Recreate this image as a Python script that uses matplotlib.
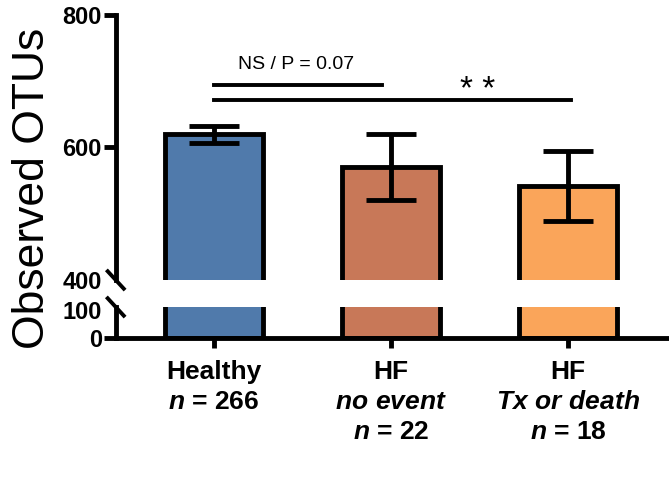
import matplotlib
matplotlib.use('Agg')
import matplotlib.pyplot as plt

plt.rcParams.update({'font.family': 'Liberation Sans',
                     'mathtext.fontset': 'custom',
                     'mathtext.rm': 'Liberation Sans:bold',
                     'mathtext.it': 'Liberation Sans:italic:bold',
                     'mathtext.bf': 'Liberation Sans:bold'})

# data
groups = ['Healthy\n$n$ = 266',
          'HF\n$no\\ event$\n$n$ = 22',
          'HF\n$Tx\\ or\\ death$\n$n$ = 18']
means = [620, 570, 542]
sems = [13, 50, 53]
colors = ['#507AAB', '#C87858', '#FAA55A']
upper_ticks = [400, 600, 800]
lower_ticks = [0, 100]

lw = 3.5
x = range(len(means))

fig = plt.figure(figsize=(6.69, 4.83), dpi=100)
ax1 = fig.add_axes([0.173, 0.4203, 0.827, 0.5487])  # top part 400-800
ax2 = fig.add_axes([0.173, 0.3002, 0.827, 0.0642])  # bottom part 0-110

for ax in (ax1, ax2):
    ax.bar(x, means, width=0.554, color=colors, edgecolor='black', linewidth=lw)
    ax.set_xlim(-0.554, 2.571)
    for s in ['top', 'right']:
        ax.spines[s].set_visible(False)
    ax.spines['left'].set_linewidth(lw)
    ax.spines['bottom'].set_linewidth(lw)
    ax.tick_params(axis='y', length=9, width=lw, labelsize=17, pad=1)

ax1.errorbar(x, means, yerr=sems, fmt='none', ecolor='black', elinewidth=lw,
             capsize=18, capthick=lw)
ax1.set_ylim(400, 800)
ax1.set_yticks(upper_ticks)
ax1.set_yticklabels([str(t) for t in upper_ticks], fontweight='bold')
ax1.spines['bottom'].set_visible(False)
ax1.set_xticks([])
ax1.yaxis.get_major_ticks()[0].tick1line.set_visible(False)

ax2.set_ylim(0, 110)
ax2.set_yticks(lower_ticks)
ax2.set_yticklabels([str(t) for t in lower_ticks], fontweight='bold')
ax2.yaxis.get_major_ticks()[1].tick1line.set_visible(False)
ax2.set_xticks(list(x))
ax2.set_xticklabels(groups, fontsize=19, fontweight='bold', linespacing=1.3)
ax2.tick_params(axis='x', length=7, width=lw, pad=9)

# break marks on the y axis
d = 0.012
kw = dict(color='black', lw=2.8, clip_on=False)
fig.add_artist(plt.Line2D([0.173 - d, 0.173 + d], [0.4203 + 0.018, 0.4203 - 0.018], **kw))
fig.add_artist(plt.Line2D([0.173 - d, 0.173 + d], [0.3644 + 0.018, 0.3644 - 0.018], **kw))

# significance bars
ax1.plot([0, 0.95], [694, 694], color='black', lw=2.8)
ax1.plot([0, 2.02], [672, 672], color='black', lw=2.8)
ax1.text(0.465, 712, 'NS / P = 0.07', ha='center', va='bottom', fontsize=14)
ax1.text(1.49, 662, '* *', ha='center', va='bottom', fontsize=24)

fig.text(0.049, 0.61, 'Observed OTUs', rotation=90, ha='center', va='center',
         fontsize=32)

fig.savefig('out.png', dpi=100)
